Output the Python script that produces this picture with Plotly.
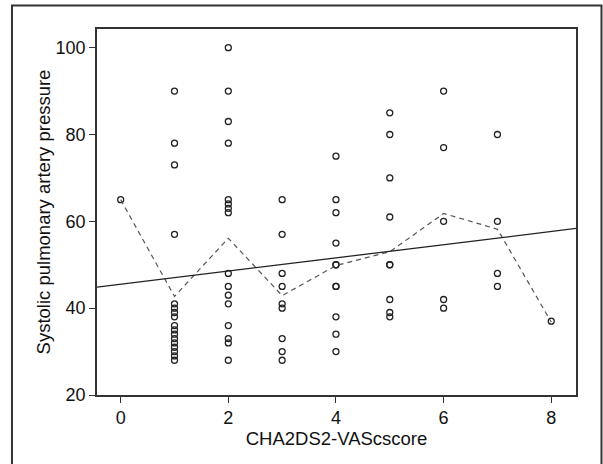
import plotly.graph_objects as go

# ---- data ----
score_0 = [65]
score_1 = [90, 78, 73, 57, 41, 40, 39, 38, 36, 35, 34, 33, 32, 31, 30, 29, 28]
score_2 = [100, 90, 83, 78, 65, 64, 63, 62, 48, 45, 43, 41, 36, 33, 32, 28]
score_3 = [65, 57, 48, 45, 41, 40, 33, 30, 28]
score_4 = [75, 65, 62, 55, 50, 50, 45, 45, 38, 34, 30]
score_5 = [85, 80, 70, 61, 50, 50, 42, 39, 38]
score_6 = [90, 77, 60, 42, 40]
score_7 = [80, 60, 48, 45]
score_8 = [37]
groups = [score_0, score_1, score_2, score_3, score_4, score_5, score_6, score_7, score_8]

mean_x = [0, 1, 2, 3, 4, 5, 6, 7, 8]
mean_y = [65, 42.7, 56.1, 42.9, 49.8, 53.0, 61.8, 58.2, 36.8]

fit_intercept = 45.5
fit_slope = 1.52

x_range = [-0.44, 8.46]
y_range = [20, 104.3]
x_ticks = [0, 2, 4, 6, 8]
y_ticks = [20, 40, 60, 80, 100]

xs, ys = [], []
for score, vals in enumerate(groups):
    xs += [score] * len(vals)
    ys += vals

fit_x = x_range
fit_y = [fit_intercept + fit_slope * v for v in fit_x]

FONT = "Liberation Sans, Arial, sans-serif"

fig = go.Figure()
fig.add_trace(go.Scatter(
    x=xs, y=ys, mode="markers",
    marker=dict(symbol="circle-open", size=6, color="#222222", line=dict(width=1.3, color="#222222")),
    showlegend=False, hoverinfo="x+y"))
fig.add_trace(go.Scatter(
    x=mean_x, y=mean_y, mode="lines",
    line=dict(color="#555555", width=1.2, dash="5px,4px"),
    showlegend=False))
fig.add_trace(go.Scatter(
    x=fit_x, y=fit_y, mode="lines",
    line=dict(color="#222222", width=1.3),
    showlegend=False))

fig.update_layout(
    width=603, height=464,
    margin=dict(l=97, r=27, t=29, b=69),
    paper_bgcolor="white", plot_bgcolor="white",
    font=dict(family=FONT, size=18, color="#111111"),
    xaxis=dict(range=x_range, tickvals=x_ticks, ticks="outside", ticklen=6, tickcolor="#333333",
               showline=True, mirror=True, linecolor="#333333", linewidth=1.5,
               showgrid=False, zeroline=False,
               title=dict(text="CHA2DS2-VAScscore", font=dict(size=18.5), standoff=5)),
    yaxis=dict(range=y_range, tickvals=y_ticks, ticks="outside", ticklen=6, tickcolor="#333333",
               showline=True, mirror=True, linecolor="#333333", linewidth=1.5,
               showgrid=False, zeroline=False,
               title=dict(text="Systolic pulmonary artery pressure", font=dict(size=18.5), standoff=0)),
    shapes=[dict(type="rect", xref="paper", yref="paper",
                 x0=-0.1775, x1=1.0532, y0=-0.3, y1=1.0645,
                 line=dict(color="#333333", width=2), layer="below")],
)

fig.write_html(
    "out.html",
    config={"displayModeBar": False},
    post_script="document.body.style.margin='0';document.body.style.overflow='hidden';",
)
